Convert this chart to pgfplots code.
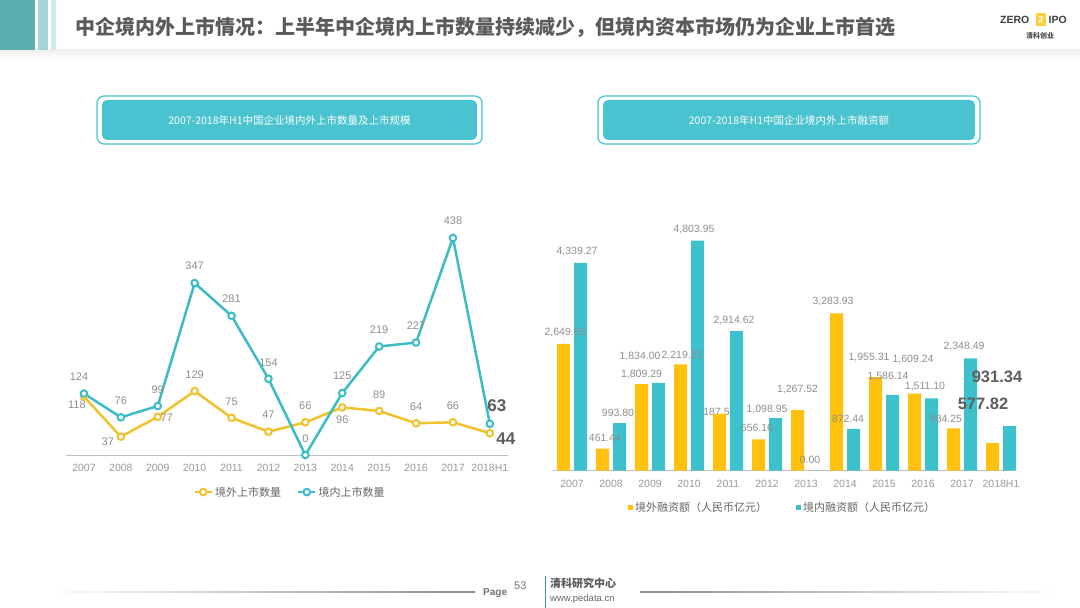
\documentclass[border=0pt]{standalone}
\usepackage{pgfplots}
\pgfplotsset{compat=1.18}
\usepackage{fontspec}
\setmainfont{Liberation Sans}
\newfontfamily\cjk{Noto Sans CJK SC}
\definecolor{hdteal}{HTML}{5BAEAE}
\definecolor{hdlight}{HTML}{A6D4D4}
\definecolor{hdthin}{HTML}{D3EAEA}
\definecolor{titlecol}{HTML}{5A5A5A}
\definecolor{boxteal}{HTML}{48C3CF}
\definecolor{lyellow}{HTML}{F2C12E}
\definecolor{lteal}{HTML}{3CBCC7}
\definecolor{byellow}{HTML}{FFC10E}
\definecolor{bteal}{HTML}{3DC1CD}
\definecolor{lblgrey}{HTML}{8E8E8E}
\definecolor{tickgrey}{HTML}{9A9A9A}
\definecolor{axgrey}{HTML}{BFBFBF}
\definecolor{legtext}{HTML}{666666}
\definecolor{boldlbl}{HTML}{5E5E5E}
\begin{document}
\begin{tikzpicture}[x=1pt,y=1pt,
  lbl/.style={font=\fontsize{11}{12}\selectfont, text=lblgrey, inner sep=0pt},
  rlbl/.style={font=\fontsize{10.5}{12}\selectfont, text=lblgrey, inner sep=0pt},
  big/.style={font=\bfseries\fontsize{17}{19}\selectfont, text=boldlbl, inner sep=0pt},
  rbig/.style={font=\bfseries\fontsize{16.5}{19}\selectfont, text=boldlbl, inner sep=0pt}]
\fill[white] (0,0) rectangle (1080,608);
\useasboundingbox (0,0) rectangle (1080,608);
% header
\shade[top color=black!6, bottom color=white] (0,558) rectangle (1080,550);
\fill[hdteal] (0,558) rectangle (35,608);
\fill[hdlight] (38,558) rectangle (48,608);
\fill[hdthin] (51,558) rectangle (56,608);
\node[anchor=west, font=\cjk\bfseries\fontsize{20}{24}\selectfont, text=titlecol, inner sep=0] at (75,581)
 {中企境内外上市情况：上半年中企境内上市数量持续减少，但境内资本市场仍为企业上市首选};
% logo
\node[anchor=west, font=\bfseries\fontsize{10.5}{12}\selectfont, text=black!75, inner sep=0] at (1000,588) {ZERO};
\fill[byellow!80] (1035.5,582) rectangle (1046,595);
\node[font=\bfseries\fontsize{9}{10}\selectfont, text=white, inner sep=0] at (1040.75,588.5) {2};
\node[anchor=west, font=\bfseries\fontsize{10.5}{12}\selectfont, text=black!75, inner sep=0] at (1048.5,588) {IPO};
\node[font=\cjk\bfseries\fontsize{7}{8}\selectfont, text=black!70, inner sep=0] at (1040,572) {清科创业};
% title boxes
\draw[boxteal, line width=1.2pt, fill=white, rounded corners=7pt] (97,464) rectangle (482,512);
\fill[boxteal, rounded corners=5pt] (102,468) rectangle (477,508);
\node[font=\cjk\fontsize{10.5}{12}\selectfont, text=white] at (289.5,488) {2007-2018年H1中国企业境内外上市数量及上市规模};
\draw[boxteal, line width=1.2pt, fill=white, rounded corners=7pt] (598,464) rectangle (980,512);
\fill[boxteal, rounded corners=5pt] (603,468) rectangle (975,508);
\node[font=\cjk\fontsize{10.5}{12}\selectfont, text=white] at (789,488) {2007-2018年H1中国企业境内外上市融资额};
% footer
\shade[left color=white, right color=black!45] (47,15.4) rectangle (475,16.6);
\shade[left color=black!45, right color=white] (640,15.4) rectangle (1062,16.6);
\node[anchor=west, font=\bfseries\fontsize{10}{12}\selectfont, text=black!55, inner sep=0] at (483,15) {Page};
\node[anchor=west, font=\fontsize{11}{12}\selectfont, text=black!55, inner sep=0] at (514,22) {53};
\draw[boxteal!80!black, line width=1pt] (545,0) -- (545,32);
\node[anchor=west, font=\cjk\bfseries\fontsize{11}{12}\selectfont, text=black!65, inner sep=0] at (550,25) {清科研究中心};
\node[anchor=west, font=\fontsize{9.5}{11}\selectfont, text=black!60, inner sep=0] at (550,9) {www.pedata.cn};

% ---------------- left chart ----------------
\begin{axis}[at={(65.5pt,153pt)}, anchor=south west, scale only axis,
  width=442.8pt, height=237.8pt, xmin=-0.5, xmax=11.5, ymin=0, ymax=480,
  axis x line*=bottom, axis y line=none, axis line style={axgrey, line width=0.8pt},
  xtick={0,...,11}, xticklabels={2007,2008,2009,2010,2011,2012,2013,2014,2015,2016,2017,2018H1},
  major tick length=0pt, ticklabel style={font=\fontsize{10.5}{12}\selectfont, text=tickgrey},
  xticklabel style={yshift=-5.5pt}, clip=false,
  legend style={at={(0.507,-0.156)}, anchor=center, draw=none, fill=none, legend columns=2,
    font=\cjk\fontsize{11}{13}\selectfont, text=legtext, inner sep=0pt,
    /tikz/every even column/.append style={column sep=14pt}}]
\addplot[lyellow, line width=2.5pt, mark=*, mark size=3.3pt, mark options={fill=white, line width=2pt}]
 coordinates {(0,118) (1,37) (2,77) (3,129) (4,75) (5,47) (6,66) (7,96) (8,89) (9,64) (10,66) (11,44)};
\addlegendentry{境外上市数量}
\addplot[lteal, line width=2.5pt, mark=*, mark size=3.3pt, mark options={fill=white, line width=2pt}]
 coordinates {(0,124) (1,76) (2,99) (3,347) (4,281) (5,154) (6,0) (7,125) (8,219) (9,227) (10,438) (11,63)};
\addlegendentry{境内上市数量}
% yellow labels
\node[lbl, xshift=-7pt, yshift=-8pt] at (axis cs:0,118) {118};
\node[lbl, xshift=-13pt, yshift=-5pt] at (axis cs:1,37) {37};
\node[lbl, xshift=9pt, yshift=-1pt] at (axis cs:2,77) {77};
\node[lbl, yshift=16pt] at (axis cs:3,129) {129};
\node[lbl, yshift=16pt] at (axis cs:4,75) {75};
\node[lbl, yshift=16.5pt] at (axis cs:5,47) {47};
\node[lbl, yshift=16.5pt] at (axis cs:6,66) {66};
\node[lbl, yshift=-12.5pt] at (axis cs:7,96) {96};
\node[lbl, yshift=16.5pt] at (axis cs:8,89) {89};
\node[lbl, yshift=16.5pt] at (axis cs:9,64) {64};
\node[lbl, yshift=16.5pt] at (axis cs:10,66) {66};
\node[big, xshift=16pt, yshift=-5pt] at (axis cs:11,44) {44};
% teal labels
\node[lbl, xshift=-5pt, yshift=17pt] at (axis cs:0,124) {124};
\node[lbl, yshift=16.3pt] at (axis cs:1,76) {76};
\node[lbl, yshift=16.7pt] at (axis cs:2,99) {99};
\node[lbl, yshift=17pt] at (axis cs:3,347) {347};
\node[lbl, yshift=16.8pt] at (axis cs:4,281) {281};
\node[lbl, yshift=16.4pt] at (axis cs:5,154) {154};
\node[lbl, yshift=16.7pt] at (axis cs:6,0) {0};
\node[lbl, yshift=17.4pt] at (axis cs:7,125) {125};
\node[lbl, yshift=17.2pt] at (axis cs:8,219) {219};
\node[lbl, yshift=16.5pt] at (axis cs:9,227) {227};
\node[lbl, yshift=17.3pt] at (axis cs:10,438) {438};
\node[big, xshift=7pt, yshift=18pt] at (axis cs:11,63) {63};
\end{axis}

% ---------------- right chart ----------------
\begin{axis}[at={(552.5pt,137.3pt)}, anchor=south west, scale only axis,
  width=460.2pt, height=239.4pt, xmin=-0.5, xmax=11.3, ymin=0, ymax=5000,
  axis x line*=bottom, axis y line=none, axis line style={axgrey, line width=0.8pt},
  xtick={0,...,11}, xticklabels={2007,2008,2009,2010,2011,2012,2013,2014,2015,2016,2017,2018H1},
  major tick length=0pt, ticklabel style={font=\fontsize{10.5}{12}\selectfont, text=tickgrey},
  xticklabel style={yshift=-5.5pt}, clip=false,
  legend style={at={(0.4998,-0.152)}, anchor=center, draw=none, fill=none, legend columns=2,
    font=\cjk\fontsize{11}{13}\selectfont, text=legtext, inner sep=0pt,
    /tikz/every even column/.append style={column sep=27pt}}]
\node[rlbl, xshift=-13pt, yshift=1pt] at (axis cs:4,1187.51) {1,187.51};
\addplot[ybar, bar width=13pt, bar shift=-8.5pt, fill=byellow, draw=none,
  legend image code/.code={\fill[byellow] (0pt,-2.5pt) rectangle (5pt,2.5pt);}]
 coordinates {(0,2649.65) (1,461.44) (2,1809.29) (3,2219.25) (4,1187.51) (5,656.16) (6,1267.52) (7,3283.93) (8,1955.31) (9,1609.24) (10,884.25) (11,577.82)};
\addlegendentry{境外融资额（人民币亿元）}
\addplot[ybar, bar width=13pt, bar shift=8.5pt, fill=bteal, draw=none,
  legend image code/.code={\fill[bteal] (0pt,-2.5pt) rectangle (5pt,2.5pt);}]
 coordinates {(0,4339.27) (1,993.80) (2,1834.00) (3,4803.95) (4,2914.62) (5,1098.95) (6,0) (7,872.44) (8,1586.14) (9,1511.10) (10,2348.49) (11,931.34)};
\addlegendentry{境内融资额（人民币亿元）}
% yellow labels
\node[rlbl, xshift=-7pt, yshift=11.8pt] at (axis cs:0,2649.65) {2,649.65};
\node[rlbl, xshift=-6pt, yshift=10.6pt] at (axis cs:1,461.44) {461.44};
\node[rlbl, xshift=-8.5pt, yshift=10pt] at (axis cs:2,1809.29) {1,809.29};
\node[rlbl, xshift=-7pt, yshift=9.4pt] at (axis cs:3,2219.25) {2,219.25};
\node[rlbl, xshift=-10pt, yshift=11pt] at (axis cs:5,656.16) {656.16};
\node[rlbl, xshift=-8.5pt, yshift=21pt] at (axis cs:6,1267.52) {1,267.52};
\node[rlbl, xshift=-12pt, yshift=11.5pt] at (axis cs:7,3283.93) {3,283.93};
\node[rlbl, xshift=-15pt, yshift=20pt] at (axis cs:8,1955.31) {1,955.31};
\node[rlbl, xshift=-10pt, yshift=33.7pt] at (axis cs:9,1609.24) {1,609.24};
\node[rlbl, xshift=-16pt, yshift=9.4pt] at (axis cs:10,884.25) {884.25};
\node[rbig, xshift=-18pt, yshift=39pt] at (axis cs:11,577.82) {577.82};
% teal labels
\node[rlbl, xshift=-10pt, yshift=26pt] at (axis cs:2,1834.00) {1,834.00};
\node[rlbl, xshift=5pt, yshift=11pt] at (axis cs:0,4339.27) {4,339.27};
\node[rlbl, xshift=7pt, yshift=10pt] at (axis cs:1,993.80) {993.80};
\node[rlbl, xshift=5pt, yshift=10.7pt] at (axis cs:3,4803.95) {4,803.95};
\node[rlbl, xshift=6pt, yshift=11pt] at (axis cs:4,2914.62) {2,914.62};
\node[rlbl, xshift=0pt, yshift=9pt] at (axis cs:5,1098.95) {1,098.95};
\node[rlbl, xshift=4pt, yshift=10.7pt] at (axis cs:6,0) {0.00};
\node[rlbl, xshift=3pt, yshift=10pt] at (axis cs:7,872.44) {872.44};
\node[rlbl, xshift=4pt, yshift=17.8pt] at (axis cs:8,1586.14) {1,586.14};
\node[rlbl, xshift=2pt, yshift=11.4pt] at (axis cs:9,1511.10) {1,511.10};
\node[rlbl, xshift=2pt, yshift=11.3pt] at (axis cs:10,2348.49) {2,348.49};
\node[rbig, xshift=-4pt, yshift=49pt] at (axis cs:11,931.34) {931.34};
\end{axis}
\end{tikzpicture}
\end{document}
